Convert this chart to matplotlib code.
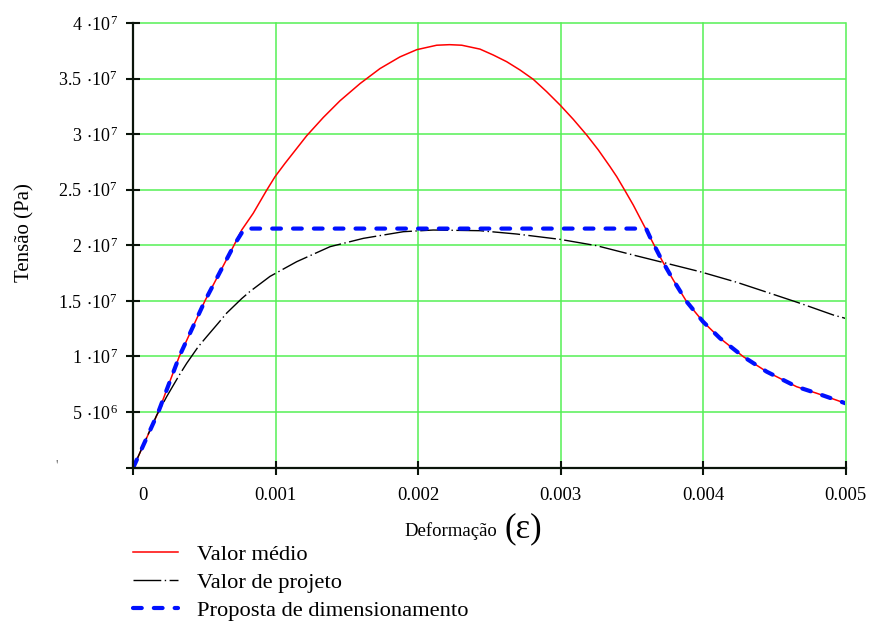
import matplotlib
matplotlib.use("Agg")
import matplotlib.pyplot as plt
import matplotlib.transforms as mtransforms
import numpy as np

plt.rcParams["font.family"] = ["Liberation Serif", "DejaVu Serif"]
plt.rcParams["mathtext.fontset"] = "custom"
plt.rcParams["mathtext.rm"] = "Liberation Serif"

# curva média (Valor médio), tensões em 1e7 Pa
eps_medio = [0, 0.000176, 0.000323, 0.000503, 0.000707, 0.000761, 0.000842,
             0.000937, 0.000995, 0.001065, 0.001217, 0.001334, 0.001451,
             0.001592, 0.001732, 0.001872, 0.00199, 0.00213, 0.00222,
             0.002306, 0.002434, 0.002527, 0.002621, 0.002715, 0.002808,
             0.002902, 0.002996, 0.003089, 0.003183, 0.003265, 0.003347,
             0.003394, 0.003452, 0.00351, 0.00358, 0.003627, 0.00371,
             0.003791, 0.003885, 0.004, 0.004119, 0.004283, 0.004447,
             0.004657, 0.004798, 0.005]
sig_medio = [0, 0.5, 1.0, 1.5, 2.0, 2.137, 2.288, 2.497, 2.617, 2.737, 2.985,
             3.150, 3.300, 3.455, 3.590, 3.695, 3.760, 3.800, 3.805, 3.800,
             3.765, 3.712, 3.652, 3.577, 3.493, 3.382, 3.262, 3.133, 2.992,
             2.857, 2.707, 2.617, 2.491, 2.362, 2.19, 2.075, 1.867, 1.687,
             1.492, 1.312, 1.163, 0.997, 0.862, 0.727, 0.668, 0.578]

# curva de projeto (Valor de projeto)
eps_proj = [0, 0.000164, 0.000234, 0.000323, 0.000375, 0.000456, 0.000515,
            0.000597, 0.000656, 0.000761, 0.00082, 0.00096, 0.001147,
            0.001381, 0.001615, 0.001896, 0.002106, 0.002434, 0.002692,
            0.002996, 0.003253, 0.00351, 0.003745, 0.003979, 0.004236,
            0.00447, 0.004681, 0.004915, 0.005]
sig_proj = [0, 0.47, 0.637, 0.832, 0.938, 1.087, 1.177, 1.30, 1.39, 1.52,
            1.585, 1.72, 1.852, 1.987, 2.062, 2.122, 2.137, 2.131, 2.101,
            2.053, 1.996, 1.912, 1.837, 1.762, 1.667, 1.568, 1.478, 1.372,
            1.342]

# proposta: ramo da curva média com patamar
eps_prop = [0, 0.000176, 0.000323, 0.000503, 0.000707, 0.00078, 0.0036,
            0.003627, 0.00371, 0.003791, 0.003885, 0.004, 0.004119, 0.004283,
            0.004447, 0.004657, 0.004798, 0.005]
sig_prop = [0, 0.5, 1.0, 1.5, 2.0, 2.15, 2.15, 2.075, 1.867, 1.687, 1.492,
            1.312, 1.163, 0.997, 0.862, 0.727, 0.668, 0.578]

x_ticks = [0, 0.001, 0.002, 0.003, 0.004, 0.005]
x_labels = ["0", "0.001", "0.002", "0.003", "0.004", "0.005"]
y_ticks = [0, 5e6, 1e7, 1.5e7, 2e7, 2.5e7, 3e7, 3.5e7, 4e7]
y_mant = ["", "5", "1", "1.5", "2", "2.5", "3", "3.5", "4"]
y_exp = ["", "6", "7", "7", "7", "7", "7", "7", "7"]

E7 = 1e7


def sci_label(m, e):
    if not m:
        return ""
    return r"$\mathregular{%s\ {\cdot}10^{%s}}$" % (m, e)


fig = plt.figure(figsize=(8.7, 6.22), dpi=100)
ax = fig.add_axes([133.3 / 870, 1 - 467.5 / 622, (845.5 - 133.3) / 870, (467.5 - 23) / 622])

ax.plot(eps_medio, np.array(sig_medio) * E7, color="red", lw=1.1,
        label="Valor médio", zorder=3)
ax.plot(eps_proj, np.array(sig_proj) * E7, color="black", lw=1.0,
        linestyle=(0, (20, 2.5, 1, 2.5)), label="Valor de projeto", zorder=3)
ax.plot(eps_prop, np.array(sig_prop) * E7, color="#0010ff", lw=3.0,
        linestyle=(0, (2.1, 2.9)), dash_capstyle="round",
        label="Proposta de dimensionamento", zorder=4)

ax.set_xlim(0, 0.005)
ax.set_ylim(0, 4e7)
ax.set_xticks(x_ticks)
ax.set_xticklabels(x_labels)
ax.set_yticks(y_ticks)
ax.set_yticklabels([sci_label(m, e) for m, e in zip(y_mant, y_exp)])

ax.grid(True, color="#55f055", lw=1.1, zorder=1)
ax.set_axisbelow(True)
for gl in ax.get_xgridlines() + ax.get_ygridlines():
    gl.set_clip_on(False)
for s in ["top", "right"]:
    ax.spines[s].set_visible(False)
for s in ["left", "bottom"]:
    ax.spines[s].set_linewidth(1.6)
    ax.spines[s].set_color("#0a140a")
    ax.spines[s].set_zorder(5)
ax.tick_params(direction="inout", length=10, width=1.5, color="#0a140a",
               labelsize=13, pad=6)
ax.tick_params(axis="x", labelsize=13.5, pad=9)

# o rótulo "0" fica um pouco à direita
lbl0 = ax.get_xticklabels()[0]
lbl0.set_transform(lbl0.get_transform() +
                   mtransforms.ScaledTranslation(0.10, 0, fig.dpi_scale_trans))

fig.text(25 / 870, 1 - 233 / 622, "Tensão (Pa)", rotation=90, fontsize=15,
         ha="center", va="center")
fig.text(57 / 870, 1 - 466 / 622, "'", fontsize=10, color="#666666",
         ha="center", va="center")

fig.text(404 / 870, 1 - 531 / 622, "Deformação", fontsize=13.5,
         ha="left", va="center")
fig.text(504 / 870, 1 - 529 / 622, "(ε)", fontsize=25,
         ha="left", va="center")

fig.legend(loc="upper left", bbox_to_anchor=(133 / 870, 1 - 544 / 622),
           frameon=False, fontsize=16.2, handlelength=2.0, handletextpad=0.85,
           labelspacing=0.32, borderpad=0, borderaxespad=0)

fig.savefig("out.png", dpi=100)
